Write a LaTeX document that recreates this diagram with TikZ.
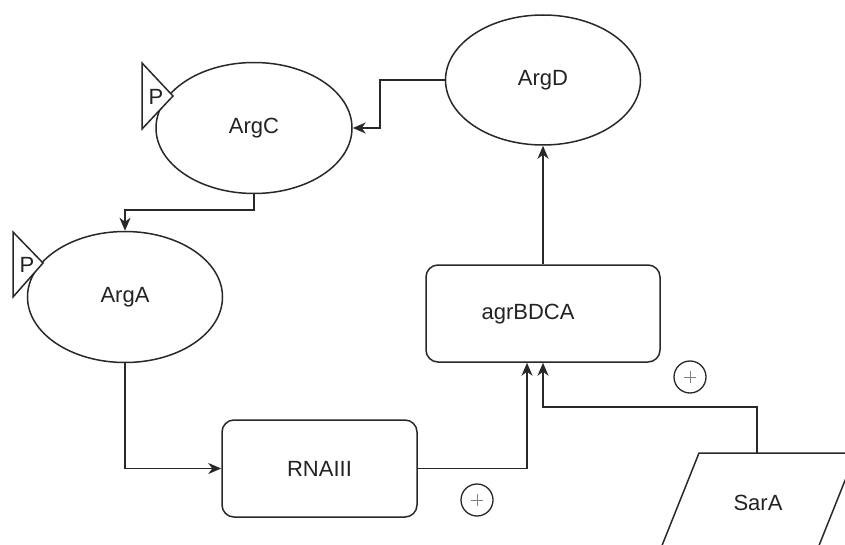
\documentclass[tikz,border=0pt]{standalone}
\usepackage{fontspec}
\setmainfont{Liberation Sans}
\usetikzlibrary{arrows.meta,shapes.geometric,calc}
\definecolor{ln}{RGB}{40,40,40}
\definecolor{tx}{RGB}{35,35,35}
\begin{document}
\begin{tikzpicture}[x=1pt,y=-1pt,
  every node/.style={font=\fontsize{22}{26}\selectfont, text=tx},
  ell/.style={draw=ln, line width=1.5pt, ellipse, inner sep=0pt, fill=white},
  box/.style={draw=ln, line width=1.5pt, rounded corners=12pt, inner sep=0pt, fill=white},
  arr/.style={draw=ln, line width=1.5pt, -{Stealth[length=13pt,width=11pt,inset=4pt]}},
  tri/.style={draw=ln, line width=1.5pt, fill=white, line join=miter},
  plus/.style={circle, draw=ln, line width=1.3pt, minimum size=32pt, inner sep=0pt},
  pl/.style={draw=gray, line width=0.8pt}
]
\useasboundingbox (0,0) rectangle (845,545);
\clip (0,0) rectangle (845,545);
\fill[white] (0,0) rectangle (845,545);

% ellipses
\node[ell, minimum width=195pt, minimum height=130pt] (argD) at (543,80) {ArgD};
\node[ell, minimum width=196pt, minimum height=131pt] (argC) at (254,128) {ArgC};
\node[ell, minimum width=195pt, minimum height=131pt] (argA) at (125,297) {ArgA};

% boxes
\node[box, minimum width=234pt, minimum height=97pt] (agr) at (543,313.5) {};
\node (agrT) at (528,314) {agrBDCA};
\node[box, minimum width=195pt, minimum height=97pt] (rna) at (319.5,468.5) {RNAIII};

% phosphate triangles
\draw[tri] (142,63) -- (142,129) -- (173,96) -- cycle;
\node (pC) at (156,97) {P};
\draw[tri] (13,232) -- (13,297) -- (43,263) -- cycle;
\node (pA) at (27,265) {P};

% SarA parallelogram
\draw[tri] (699,453) -- (856,453) -- (816,553) -- (659,553) -- cycle;
\node (sara) at (758,503) {SarA};
\coordinate (saraTop) at (757,453);

% plus markers
\node[plus] (plus1) at (690,377) {};
\draw[pl] ($(plus1)+(-6,0)$) -- ($(plus1)+(6,0)$);
\draw[pl] ($(plus1)+(0,-6)$) -- ($(plus1)+(0,6)$);
\node[plus] (plus2) at (477,500) {};
\draw[pl] ($(plus2)+(-6,0)$) -- ($(plus2)+(6,0)$);
\draw[pl] ($(plus2)+(0,-6)$) -- ($(plus2)+(0,6)$);

% connectors
\draw[arr] (argD.west) -- ++(-65,0) |- (argC.east);
\draw[arr] (argC.south) -- ++(0,16) -| (argA.north);
\draw[arr] (argA.south) |- (rna.west);
\draw[arr] (rna.east) -| ([xshift=-16pt]agr.south);
\draw[arr] (saraTop) -- ++(0,-46) -| (agr.south);
\draw[arr] (agr.north) -- (argD.south);
\end{tikzpicture}
\end{document}
